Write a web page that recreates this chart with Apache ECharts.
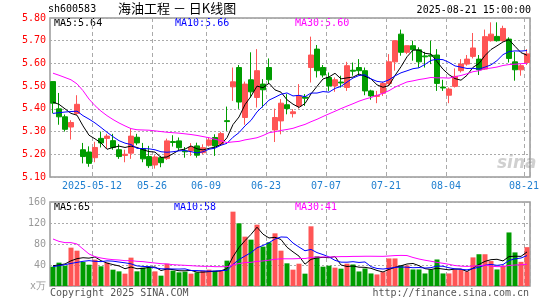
<!DOCTYPE html>
<html><head><meta charset="utf-8">
<script src="https://cdn.jsdelivr.net/npm/echarts@6/dist/echarts.min.js"></script>
<style>html,body{margin:0;padding:0;background:#fff}#c{width:545px;height:300px}</style>
</head><body><div id="c"></div>
<script>
const dates = ['2025-04-28','2025-04-29','2025-04-30','2025-05-06','2025-05-07','2025-05-08','2025-05-09',
'2025-05-12','2025-05-13','2025-05-14','2025-05-15','2025-05-16','2025-05-19','2025-05-20','2025-05-21','2025-05-22','2025-05-23',
'2025-05-26','2025-05-27','2025-05-28','2025-05-29','2025-05-30',
'2025-06-03','2025-06-04','2025-06-05','2025-06-06','2025-06-09','2025-06-10','2025-06-11','2025-06-12','2025-06-13',
'2025-06-16','2025-06-17','2025-06-18','2025-06-19','2025-06-20','2025-06-23','2025-06-24','2025-06-25','2025-06-26','2025-06-27','2025-06-30',
'2025-07-01','2025-07-02','2025-07-03','2025-07-04','2025-07-07','2025-07-08','2025-07-09','2025-07-10','2025-07-11',
'2025-07-14','2025-07-15','2025-07-16','2025-07-17','2025-07-18','2025-07-21','2025-07-22','2025-07-23','2025-07-24','2025-07-25',
'2025-07-28','2025-07-29','2025-07-30','2025-07-31','2025-08-01','2025-08-04','2025-08-05','2025-08-06','2025-08-07','2025-08-08',
'2025-08-11','2025-08-12','2025-08-13','2025-08-14','2025-08-15','2025-08-18','2025-08-19','2025-08-20','2025-08-21'];

const openP  = [5.52,5.40,5.365,5.32,5.38,5.22,5.21,5.185,5.27,5.27, 5.26,5.22,5.195,5.205,5.275,5.225,5.19,5.153,5.185,5.181,
5.256,5.259,5.215,5.215,5.237,5.207,5.24,5.274,5.244,5.348, 5.497,5.582,5.362,5.528,5.45,5.509,5.582,5.307,5.347,5.418,
5.379,5.413,5.452,5.582,5.663,5.582,5.538,5.501,5.518,5.494, 5.57,5.582,5.568,5.479,5.455,5.469,5.512,5.607,5.729,5.649,
5.678,5.66,5.633,5.636,5.637,5.496,5.46,5.499,5.568,5.597, 5.631,5.619,5.575,5.70,5.719,5.70,5.707,5.607,5.572,5.604];
const closeP = [5.425,5.365,5.31,5.34,5.42,5.19,5.16,5.23,5.25,5.28, 5.23,5.19,5.20,5.28,5.25,5.18,5.15,5.188,5.163,5.259,
5.252,5.229,5.211,5.232,5.196,5.229,5.263,5.237,5.291,5.344, 5.519,5.43,5.509,5.475,5.568,5.484,5.528,5.362,5.425,5.401,
5.387,5.457,5.447,5.637,5.568,5.549,5.501,5.528,5.514,5.59, 5.566,5.568,5.479,5.457,5.459,5.512,5.607,5.70,5.649,5.678,
5.66,5.607,5.629,5.632,5.512,5.492,5.487,5.543,5.597,5.619, 5.668,5.572,5.718,5.729,5.70,5.754,5.622,5.572,5.59,5.642];
const lowP   = [5.38,5.33,5.30,5.265,5.375,5.16,5.145,5.165,5.23,5.225, 5.22,5.18,5.165,5.18,5.24,5.165,5.14,5.137,5.143,5.175,
5.234,5.215,5.185,5.193,5.185,5.20,5.234,5.193,5.237,5.303, 5.435,5.40,5.33,5.45,5.406,5.406,5.509,5.254,5.288,5.376,
5.362,5.401,5.413,5.516,5.538,5.538,5.479,5.475,5.494,5.479, 5.546,5.549,5.46,5.44,5.425,5.457,5.501,5.568,5.634,5.641,
5.612,5.582,5.582,5.597,5.479,5.479,5.425,5.494,5.56,5.59, 5.622,5.549,5.572,5.696,5.696,5.696,5.604,5.524,5.546,5.593];
const highP  = [5.52,5.47,5.375,5.35,5.46,5.25,5.235,5.255,5.30,5.29, 5.29,5.245,5.22,5.315,5.29,5.25,5.237,5.196,5.193,5.269,
5.284,5.274,5.232,5.249,5.251,5.244,5.274,5.288,5.299,5.41, 5.582,5.593,5.52,5.649,5.663,5.531,5.622,5.401,5.443,5.465,
5.399,5.509,5.465,5.718,5.681,5.593,5.56,5.538,5.546,5.607, 5.604,5.619,5.582,5.484,5.479,5.519,5.641,5.70,5.749,5.678,
5.70,5.671,5.651,5.70,5.663,5.528,5.494,5.578,5.619,5.637, 5.734,5.637,5.749,5.781,5.781,5.766,5.715,5.651,5.597,5.663];

const volume = [36.8,44.5,38.7,73,67.3,45.7,40.6,50.2,37.5,44.5, 31.1,27.9,23.5,54,27.9,34.9,36.8,27.9,19.7,42.5,
29.2,26,27.3,23.5,26,29.2,31.1,29.2,28.6,48.3, 141.6,119.4,94,88.3,116.8,75,83.2,100.3,67.3,43.2,
31.1,42.5,23.5,113.7,56.5,36.8,38.7,34.9,33,42.5, 41,27.7,33.4,23.9,22,26.4,52.5,52.5,39.1,39.1,
31.5,31.5,23.9,31.5,50.5,23.9,23.9,31.5,31.5,27.7, 54.5,60.5,60.5,47.5,31.5,38.7,102,64,46,74];

// moving-average values before enough in-window history exists
const ma5Head  = [5.43,5.42,5.40,5.38];
const ma10Head = [5.38,5.383,5.386,5.388,5.39,5.37,5.355,5.338,5.318];
const ma30Head = [5.557,5.548,5.538,5.528,5.51,5.48,5.443,5.414,5.39,5.37,5.353,5.338,5.325,5.313,5.308,
5.307,5.306,5.303,5.30,5.297,5.295,5.293,5.29,5.287,5.283,5.278,5.273,5.266,5.26];
const volMa5Head  = [38.7,40,42,48];
const volMa10Head = [36.8,38.7,40.6,43,45,47,48.3,47,46.4];
const volMa30Head = [89.5,85,82.6,82.6,80,70.5,61,55.9,53.3,51.4,50.2,49.5,48.3,48.3,47,46.4,45,43.8,42.5,42,
40.6,40,39.4,38.7,38,37.5,37.5,36.8,36.8];

const labelIdx = [7,17,26,36,46,56,66,79];
const priceTicks = {min:5.1, max:5.8, interval:0.1};
const volTicks = {min:0, max:160, interval:40};

function ma(arr, n, head){
  return arr.map((v,i)=>{
    if(i < n-1) return head[i];
    let s=0; for(let j=i-n+1;j<=i;j++) s+=arr[j];
    return +(s/n).toFixed(4);
  });
}
const ma5 = ma(closeP,5,ma5Head), ma10 = ma(closeP,10,ma10Head), ma30 = ma(closeP,30,ma30Head);
const vma5 = ma(volume,5,volMa5Head), vma10 = ma(volume,10,volMa10Head), vma30 = ma(volume,30,volMa30Head);

const RED='#ff5555', GREEN='#009c00';
const MONO='DejaVu Sans Mono';
const last = a => a[a.length-1];

const chart = echarts.init(document.getElementById('c'), null, {renderer:'canvas'});
const gridLine = {show:true, lineStyle:{color:'#aaa', type:[2,2], width:1}};
const vLine = {show:true, interval:(i)=>labelIdx.includes(i), lineStyle:{color:'#aaa', type:[4,3], width:1}};

chart.setOption({
  animation:false,
  backgroundColor:'#fff',
  grid:[
    {left:50, top:18, width:480, height:159, show:true, borderColor:'#999', borderWidth:1.5},
    {left:50, top:202, width:480, height:84, show:true, borderColor:'#999', borderWidth:1.5}
  ],
  xAxis:[
    {type:'category', gridIndex:0, data:dates, boundaryGap:true,
     axisLine:{show:false}, axisTick:{show:false}, splitLine:vLine,
     axisLabel:{interval:(i)=>labelIdx.includes(i), formatter:(v,i)=> i===labelIdx[0]? v : v.slice(5),
       color:'#1f7fd0', fontFamily:MONO, fontSize:10, margin:4, padding:[0,6,0,0]}},
    {type:'category', gridIndex:1, data:dates, boundaryGap:true,
     axisLine:{show:false}, axisTick:{show:false}, splitLine:vLine, axisLabel:{show:false}}
  ],
  yAxis:[
    {type:'value', gridIndex:0, min:priceTicks.min, max:priceTicks.max, interval:priceTicks.interval,
     axisLine:{show:false}, axisTick:{show:false}, splitLine:gridLine,
     axisLabel:{formatter:v=>v.toFixed(2), color:'#f00', fontFamily:MONO, fontSize:10, margin:4}},
    {type:'value', gridIndex:1, min:volTicks.min, max:volTicks.max, interval:volTicks.interval,
     axisLine:{show:false}, axisTick:{show:false}, splitLine:gridLine,
     axisLabel:{formatter:v=> v===0 ? 'x万' : String(v), color:'#999', fontFamily:MONO, fontSize:10, margin:4}}
  ],
  series:[
    {type:'candlestick', xAxisIndex:0, yAxisIndex:0, barWidth:5,
     data:dates.map((d,i)=>[openP[i],closeP[i],lowP[i],highP[i]]),
     itemStyle:{color:RED, color0:GREEN, borderColor:RED, borderColor0:GREEN, borderWidth:1}},
    {type:'line', xAxisIndex:0, yAxisIndex:0, data:ma5, symbol:'none', lineStyle:{color:'#000', width:1}},
    {type:'line', xAxisIndex:0, yAxisIndex:0, data:ma10, symbol:'none', lineStyle:{color:'#0000ff', width:1}},
    {type:'line', xAxisIndex:0, yAxisIndex:0, data:ma30, symbol:'none', lineStyle:{color:'#ff00ff', width:1}},
    {type:'bar', xAxisIndex:1, yAxisIndex:1, barWidth:5,
     data:volume.map((v,i)=>({value:v, itemStyle:{color: closeP[i]>=openP[i]?RED:GREEN}}))},
    {type:'line', xAxisIndex:1, yAxisIndex:1, data:vma5, symbol:'none', lineStyle:{color:'#000', width:1}},
    {type:'line', xAxisIndex:1, yAxisIndex:1, data:vma10, symbol:'none', lineStyle:{color:'#0000ff', width:1}},
    {type:'line', xAxisIndex:1, yAxisIndex:1, data:vma30, symbol:'none', lineStyle:{color:'#ff00ff', width:1}}
  ],
  graphic:[
    {type:'text', left:48, top:4, style:{text:'sh600583', font:'10px "DejaVu Sans Mono"', fill:'#000'}},
    {type:'text', left:118, top:2, style:{text:'海油工程 － 日K线图', font:'13px "Noto Sans CJK SC"', fill:'#000'}},
    {type:'text', right:14, top:5, style:{text:'2025-08-21 15:00:00', font:'10px "DejaVu Sans Mono"', fill:'#000'}},
    {type:'text', left:54, top:18, style:{text:'MA5:'+last(ma5).toFixed(2), font:'10px "DejaVu Sans Mono"', fill:'#000'}},
    {type:'text', left:175, top:18, style:{text:'MA10:'+last(ma10).toFixed(2), font:'10px "DejaVu Sans Mono"', fill:'#0000ff'}},
    {type:'text', left:295, top:18, style:{text:'MA30:'+last(ma30).toFixed(2), font:'10px "DejaVu Sans Mono"', fill:'#ff00ff'}},
    {type:'text', left:54, top:202, style:{text:'MA5:'+last(vma5).toFixed(0), font:'10px "DejaVu Sans Mono"', fill:'#000'}},
    {type:'text', left:174, top:202, style:{text:'MA10:'+last(vma10).toFixed(0), font:'10px "DejaVu Sans Mono"', fill:'#0000ff'}},
    {type:'text', left:295, top:202, style:{text:'MA30:'+last(vma30).toFixed(0), font:'10px "DejaVu Sans Mono"', fill:'#ff00ff'}},
    {type:'text', left:50, top:288, style:{text:'Copyright 2025 SINA.COM', font:'10px "DejaVu Sans Mono"', fill:'#555'}},
    {type:'text', right:16, top:288, style:{text:'http://finance.sina.com.cn', font:'10px "DejaVu Sans Mono"', fill:'#555'}},
    {type:'text', left:497, top:155, style:{text:'sina', font:'italic bold 17px "DejaVu Sans"', fill:'rgba(120,120,120,0.35)'}}
  ]
});
</script></body></html>
